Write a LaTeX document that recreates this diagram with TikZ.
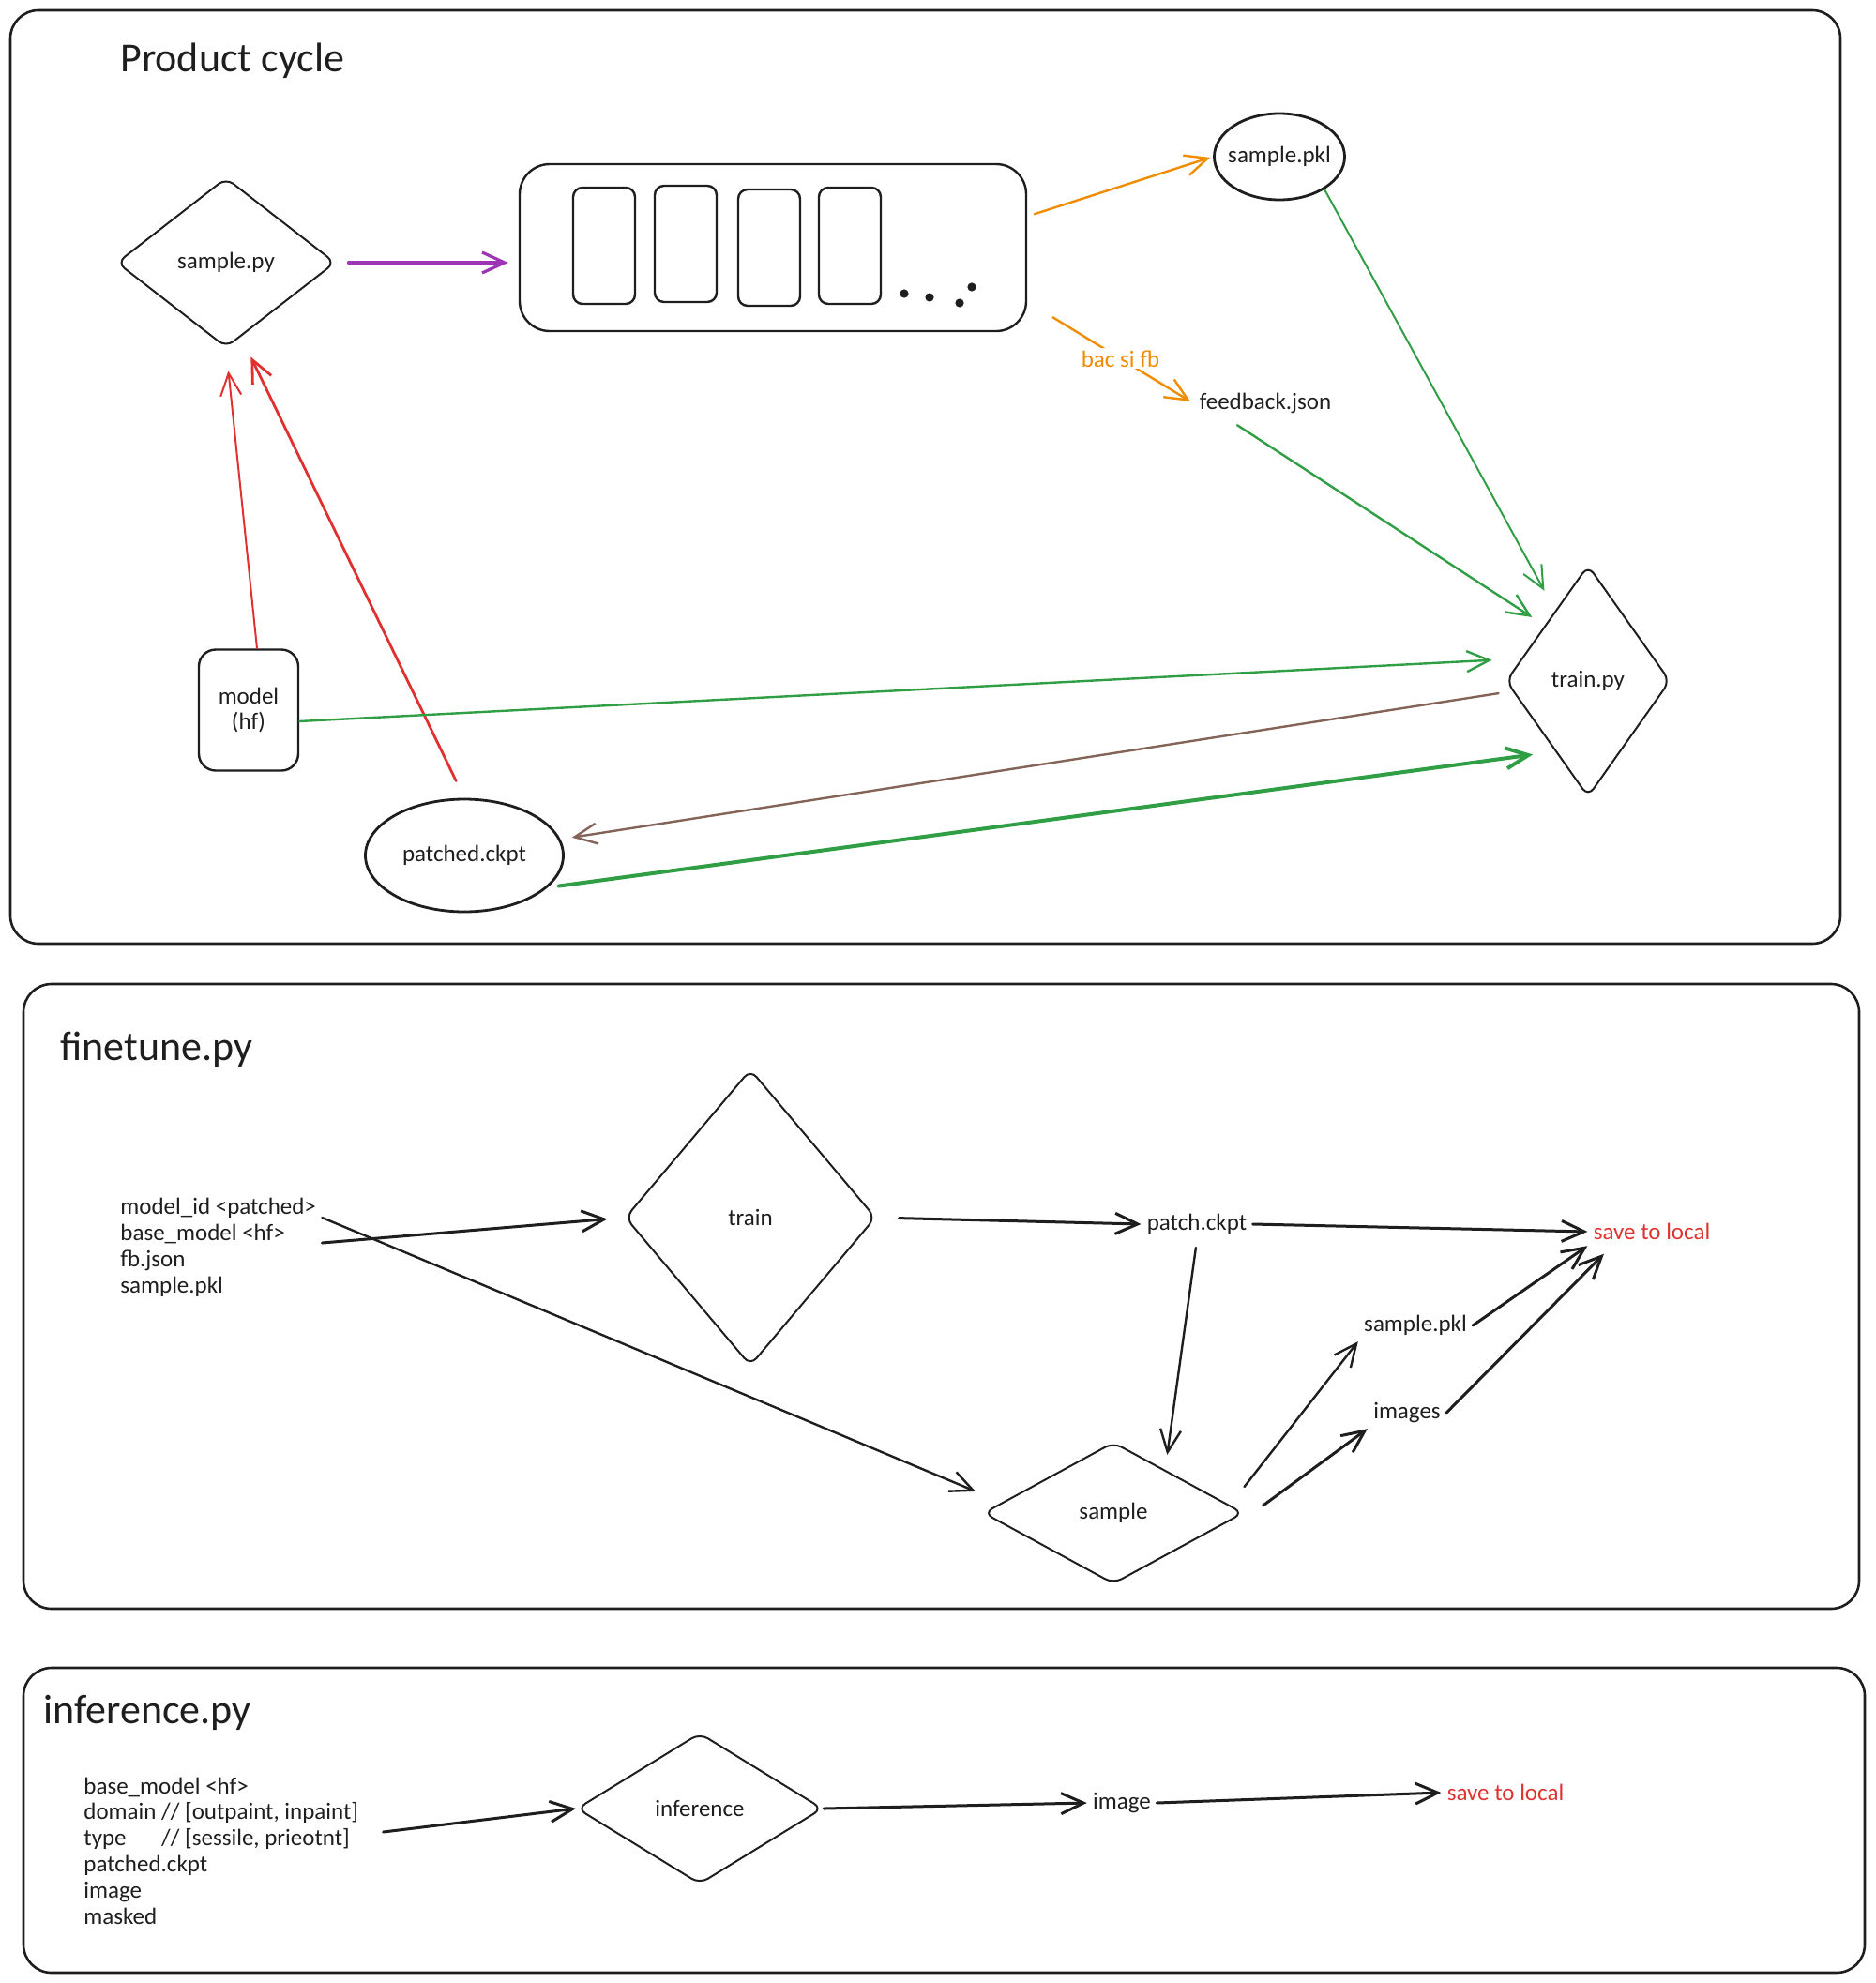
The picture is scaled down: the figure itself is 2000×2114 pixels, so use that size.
\documentclass[tikz,border=0pt]{standalone}
\usepackage{fontspec}
\setmainfont{Carlito}
\usepackage{xcolor}
\definecolor{skink}{RGB}{30,30,30}
\definecolor{skred}{RGB}{224,49,49}
\definecolor{skgreen}{RGB}{47,158,68}
\definecolor{skorange}{RGB}{240,140,0}
\definecolor{skviolet}{RGB}{156,54,181}
\definecolor{skbrown}{RGB}{132,99,88}
\usetikzlibrary{arrows.meta,positioning,shapes.geometric,calc}
\tikzset{
  panel/.style={draw=skink, line width=1.3pt, rounded corners=15pt},
  paneltitle/.style={anchor=base west, text=skink, inner sep=0pt,
                     font=\fontsize{22}{26}\selectfont},
  txt/.style={text=skink, inner sep=3pt, font=\fontsize{12.5}{13.9}\selectfont},
  decision/.style={draw=skink, diamond, line width=1pt, rounded corners=5pt,
                   inner sep=0pt, text=skink, font=\fontsize{12.5}{13.9}\selectfont},
  store/.style={draw=skink, ellipse, line width=1.4pt, inner sep=0pt,
                text=skink, font=\fontsize{12.5}{13.9}\selectfont},
  slotbox/.style={draw=skink, line width=1.2pt, rounded corners=#1,
                  text=skink, font=\fontsize{12.5}{13.9}\selectfont},
  flow/.style={-{Straight Barb[length=12pt,width=11pt]}, line cap=round, line width=#1},
}

\begin{document}
\begin{tikzpicture}[x=0.5pt, y=-0.5pt]
\useasboundingbox (0,0) rectangle (2000,2114);

% Panels
\draw[panel] (11,11) rectangle (1962,1006);
\draw[panel] (25,1049) rectangle (1982,1715);
\draw[panel] (25,1778) rectangle (1988,2103);

\node[paneltitle] (cycletitle) at (128,76) {Product cycle};
\node[paneltitle] (finetitle) at (64,1130) {finetune.py};
\node[paneltitle] (infertitle) at (46,1837) {inference.py};

% Product cycle
\node[decision, minimum width=116.5pt, minimum height=90.5pt] (samplepy) at (241,280) {sample.py};
\node[slotbox=16pt, minimum width=270pt, minimum height=89pt] (queue) at (824,264) {};
\node[slotbox=5pt, minimum width=33pt, minimum height=62pt] (slot1) at (644,262) {};
\node[slotbox=5pt, minimum width=33pt, minimum height=62pt] (slot2) at (731,260) {};
\node[slotbox=5pt, minimum width=33pt, minimum height=62pt] (slot3) at (820,264) {};
\node[slotbox=5pt, minimum width=33pt, minimum height=62pt] (slot4) at (906,262) {};
\fill[skink] (964,313) circle (2.3pt) (991,317) circle (2.3pt)
             (1023,323) circle (2.3pt) (1036,306) circle (2.3pt);

\node[store, inner sep=-3pt, minimum width=69.5pt, minimum height=46pt] (samplepkl) at (1364,167) {sample.pkl};
\node[txt] (feedback) at (1349,430) {feedback.json};
\node[decision, minimum width=87.5pt, minimum height=123.5pt] (trainpy) at (1693,726) {train.py};
\node[slotbox=9pt, minimum width=53pt, minimum height=64.5pt, align=center] (model) at (265,757) {model\\(hf)};
\node[store, minimum width=105.5pt, minimum height=60pt] (patched) at (495,912) {patched.ckpt};

\draw[flow=1.6pt, skviolet, shorten <=6.5pt, shorten >=5.5pt] (samplepy.east) -- (queue.west |- samplepy.east);
\draw[flow=1.2pt, skorange, shorten <=4pt, shorten >=1.5pt] (queue.7) -- (samplepkl.west);
\draw[flow=1.2pt, skorange, shorten <=16pt, shorten >=2pt] (queue.-12) --
  node[pos=0.56, txt, fill=white, text=skorange, inner sep=1pt] (bacsifb) {bac si fb} (feedback.west);

\draw[flow=1pt, skgreen, shorten >=12pt] (samplepkl.-36) -- (trainpy.115);
\draw[flow=1.2pt, skgreen, shorten >=8pt] ([xshift=-15pt,yshift=-3pt]feedback.south) -- (trainpy.128);
\draw[flow=1pt, skred, shorten >=12pt] ([xshift=4.5pt]model.north) -- (samplepy.south);
\draw[flow=1.4pt, skred, shorten <=10pt, shorten >=5pt] (patched.north) -- ([xshift=11pt]samplepy.south);
\draw[flow=1.2pt, skgreen, shorten >=7pt] ([yshift=-6pt]model.east) -- ([yshift=11.5pt]trainpy.west);
\draw[flow=1.2pt, skbrown, shorten <=3.5pt, shorten >=4pt] ([yshift=-6pt]trainpy.west) -- ([yshift=9pt]patched.east);
\draw[flow=2pt, skgreen, shorten <=6pt, shorten >=12pt] (patched.-21) -- (trainpy.245);

% finetune.py
\node[txt, anchor=west, align=left] (ftargs) at (122,1330)
  {model\_id <patched>\\base\_model <hf>\\fb.json\\sample.pkl};
\node[decision, minimum width=133.5pt, minimum height=158pt] (train) at (800,1298) {train};
\node[txt] (patchckpt) at (1276,1305) {patch.ckpt};
\node[txt, text=skred] (ftsave) at (1761,1313) {save to local};
\node[decision, minimum width=138.5pt, minimum height=75.5pt] (sample) at (1187,1613) {sample};
\node[txt] (ftpkl) at (1509,1413) {sample.pkl};
\node[txt] (images) at (1500,1506) {images};

\draw[flow=1.2pt, skink, shorten >=4pt] ([yshift=16pt]ftargs.east) -- ([yshift=10pt]sample.west);
\draw[flow=1.5pt, skink, shorten >=9pt] ([yshift=2.5pt]ftargs.east) -- (train.west);
\draw[flow=1.5pt, skink, shorten <=12pt] (train.east) -- (patchckpt.west);
\draw[flow=1.5pt, skink] (patchckpt.east) -- (ftsave.west);
\draw[flow=1.2pt, skink, shorten <=4pt, shorten >=8pt] (patchckpt.south) -- (sample.40);
\draw[flow=1.2pt, skink] ([yshift=14pt]sample.east) -- (ftpkl.south west);
\draw[flow=1.5pt, skink] ([xshift=10pt,yshift=4pt]sample.east) -- (images.south west);
\draw[flow=1.5pt, skink] (ftpkl.east) -- (ftsave.south west);
\draw[flow=1.5pt, skink, shorten >=6pt] (images.east) -- ([xshift=13pt]ftsave.south west);

% inference.py
\node[txt, anchor=west, align=left] (infargs) at (83,1973)
  {base\_model <hf>\\domain // [outpaint, inpaint]\\\makebox[3.31em][l]{type}// [sessile, prieotnt]\\patched.ckpt\\image\\masked};
\node[decision, minimum width=131pt, minimum height=80.5pt] (inference) at (746,1928) {inference};
\node[txt] (image) at (1196,1922) {image};
\node[txt, text=skred] (infsave) at (1605,1911) {save to local};

\draw[flow=1.5pt, skink] ([xshift=10pt,yshift=10pt]infargs.east) -- (inference.west);
\draw[flow=1.5pt, skink] (inference.east) -- (image.west);
\draw[flow=1.5pt, skink] (image.east) -- (infsave.west);

\end{tikzpicture}
\end{document}
